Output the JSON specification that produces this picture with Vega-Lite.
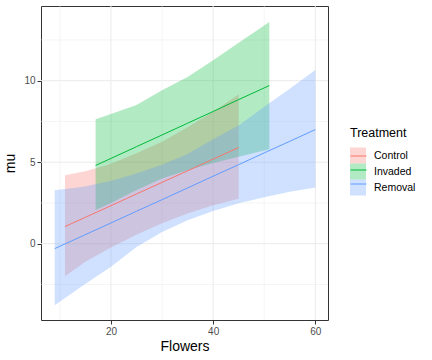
{
  "$schema": "https://vega.github.io/schema/vega-lite/v6.json",
  "width": 287,
  "height": 314,
  "autosize": "none",
  "padding": {"left": 41, "top": 6, "right": 104, "bottom": 40},
  "background": "white",
  "config": {
    "view": {"stroke": "#333333", "strokeWidth": 1},
    "font": "Liberation Sans",
    "axis": {
      "grid": false,
      "domain": false,
      "tickColor": "#333333",
      "tickSize": 4,
      "tickWidth": 1,
      "labelColor": "#4D4D4D",
      "labelFontSize": 10,
      "labelFont": "Liberation Sans",
      "titleFont": "Liberation Sans",
      "titleFontSize": 14,
      "titleFontWeight": "normal",
      "titleColor": "black"
    }
  },
  "datasets": {
    "bands": [
      {"Treatment": "Control", "Flowers": 11, "mu": 1.05, "lower": -2.0, "upper": 4.2},
      {"Treatment": "Control", "Flowers": 15, "mu": 1.62, "lower": -1.1, "upper": 4.45},
      {"Treatment": "Control", "Flowers": 20, "mu": 2.33, "lower": -0.24, "upper": 4.9},
      {"Treatment": "Control", "Flowers": 25, "mu": 3.05, "lower": 0.55, "upper": 5.55},
      {"Treatment": "Control", "Flowers": 30, "mu": 3.76, "lower": 1.25, "upper": 6.25},
      {"Treatment": "Control", "Flowers": 35, "mu": 4.47, "lower": 1.85, "upper": 7.15},
      {"Treatment": "Control", "Flowers": 40, "mu": 5.19, "lower": 2.36, "upper": 8.1},
      {"Treatment": "Control", "Flowers": 45, "mu": 5.9, "lower": 2.75, "upper": 9.15},
      {"Treatment": "Invaded", "Flowers": 17, "mu": 4.8, "lower": 2.07, "upper": 7.64},
      {"Treatment": "Invaded", "Flowers": 20, "mu": 5.23, "lower": 2.5, "upper": 7.95},
      {"Treatment": "Invaded", "Flowers": 25, "mu": 5.95, "lower": 3.3, "upper": 8.5},
      {"Treatment": "Invaded", "Flowers": 30, "mu": 6.67, "lower": 4.0, "upper": 9.42},
      {"Treatment": "Invaded", "Flowers": 35, "mu": 7.39, "lower": 4.5, "upper": 10.23},
      {"Treatment": "Invaded", "Flowers": 40, "mu": 8.11, "lower": 4.95, "upper": 11.26},
      {"Treatment": "Invaded", "Flowers": 45, "mu": 8.84, "lower": 5.34, "upper": 12.33},
      {"Treatment": "Invaded", "Flowers": 51, "mu": 9.7, "lower": 5.8, "upper": 13.6},
      {"Treatment": "Removal", "Flowers": 9, "mu": -0.3, "lower": -3.77, "upper": 3.28},
      {"Treatment": "Removal", "Flowers": 14.6, "mu": 0.5, "lower": -2.55, "upper": 3.5},
      {"Treatment": "Removal", "Flowers": 20, "mu": 1.27, "lower": -1.42, "upper": 3.85},
      {"Treatment": "Removal", "Flowers": 25, "mu": 1.99, "lower": -0.2, "upper": 4.3},
      {"Treatment": "Removal", "Flowers": 30, "mu": 2.7, "lower": 0.72, "upper": 4.85},
      {"Treatment": "Removal", "Flowers": 35, "mu": 3.42, "lower": 1.44, "upper": 5.5},
      {"Treatment": "Removal", "Flowers": 40, "mu": 4.14, "lower": 2.0, "upper": 6.4},
      {"Treatment": "Removal", "Flowers": 45, "mu": 4.85, "lower": 2.48, "upper": 7.25},
      {"Treatment": "Removal", "Flowers": 50, "mu": 5.57, "lower": 2.85, "upper": 8.4},
      {"Treatment": "Removal", "Flowers": 55, "mu": 6.28, "lower": 3.18, "upper": 9.5},
      {"Treatment": "Removal", "Flowers": 60, "mu": 7.0, "lower": 3.44, "upper": 10.66}
    ],
    "gridX": [
      {"value": 10, "major": false},
      {"value": 20, "major": true},
      {"value": 30, "major": false},
      {"value": 40, "major": true},
      {"value": 50, "major": false},
      {"value": 60, "major": true}
    ],
    "gridY": [
      {"value": -2.5, "major": false},
      {"value": 0, "major": true},
      {"value": 2.5, "major": false},
      {"value": 5, "major": true},
      {"value": 7.5, "major": false},
      {"value": 10, "major": true},
      {"value": 12.5, "major": false}
    ]
  },
  "layer": [
    {
      "data": {"name": "gridX"},
      "mark": {"type": "rule", "color": "#EBEBEB"},
      "encoding": {
        "x": {"field": "value", "type": "quantitative", "scale": {"domain": [6.31, 62.48], "nice": false, "zero": false}, "axis": {"values": [20, 40, 60], "title": "Flowers", "titlePadding": 3}},
        "strokeWidth": {"condition": {"test": "datum.major", "value": 1}, "value": 0.5}
      }
    },
    {
      "data": {"name": "gridY"},
      "mark": {"type": "rule", "color": "#EBEBEB"},
      "encoding": {
        "y": {"field": "value", "type": "quantitative", "scale": {"domain": [-4.68, 14.58], "nice": false, "zero": false}, "axis": {"values": [0, 5, 10], "title": "mu", "titlePadding": 6}},
        "strokeWidth": {"condition": {"test": "datum.major", "value": 1}, "value": 0.5}
      }
    },
    {
      "data": {"name": "bands"},
      "mark": {"type": "area", "opacity": 0.3},
      "encoding": {
        "x": {"field": "Flowers", "type": "quantitative"},
        "y": {"field": "lower", "type": "quantitative"},
        "y2": {"field": "upper"},
        "fill": {
          "field": "Treatment", "type": "nominal",
          "scale": {"range": ["#F8766D", "#00BA38", "#619CFF"]},
          "legend": {
            "orient": "none", "legendX": 309, "legendY": 121,
            "title": "Treatment", "titleFontSize": 12.5, "titleFontWeight": "normal", "titleColor": "black", "titlePadding": 8,
            "symbolType": "square", "symbolSize": 256, "symbolStrokeWidth": 0,
            "labelFontSize": 10.5, "labelColor": "black", "labelOffset": 8, "rowPadding": 0
          }
        }
      }
    },
    {
      "data": {"name": "bands"},
      "mark": {"type": "line", "strokeWidth": 1},
      "encoding": {
        "x": {"field": "Flowers", "type": "quantitative"},
        "y": {"field": "mu", "type": "quantitative"},
        "stroke": {
          "field": "Treatment", "type": "nominal",
          "scale": {"domain": ["Control", "Invaded", "Removal"], "range": ["#F8766D", "#00BA38", "#619CFF"]},
          "legend": {
            "orient": "none", "legendX": 309, "legendY": 141.5,
            "title": null,
            "symbolType": "stroke", "symbolSize": 256, "symbolStrokeWidth": 1,
            "labelExpr": "''", "labelFontSize": 10.5, "labelOffset": 8, "rowPadding": 0
          }
        }
      }
    },
    {
      "mark": {"type": "rule", "color": "black", "strokeWidth": 1},
      "encoding": {"y": {"datum": 0}}
    }
  ]
}
